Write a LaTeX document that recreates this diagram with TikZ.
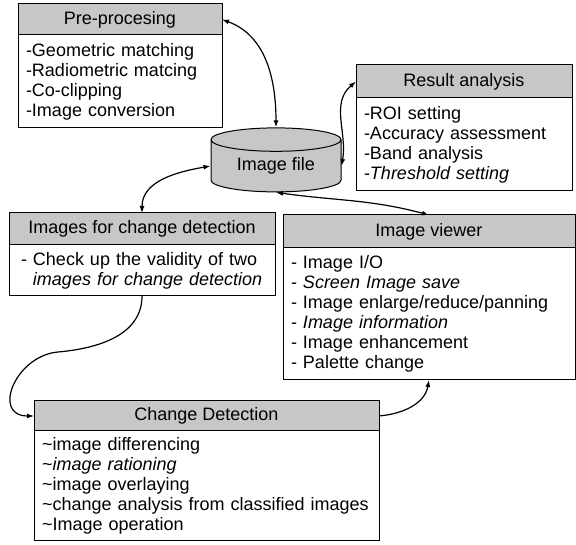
\documentclass[tikz,border=0pt]{standalone}
\usepackage{fontspec}
\setmainfont{Liberation Sans}
\usetikzlibrary{positioning, shapes.geometric, arrows.meta}
\tikzset{
	boxfont/.style={font=\fontsize{18}{20}\selectfont}, % text size used in every box
	head/.style={draw, line width=1pt, fill=black!22, boxfont, minimum height=32pt, inner sep=0pt, outer sep=0pt}, % grey title bar of a box
	body/.style={draw, line width=1pt, fill=white, boxfont, align=left, inner xsep=8pt, inner ysep=0pt, outer sep=0pt}, % list under a title bar
	store/.style={cylinder, shape border rotate=90, aspect=0.3, draw, line width=1pt, fill=black!22, boxfont, minimum width=130pt, minimum height=64pt, inner sep=0pt}, % the image file drum
	link/.style={line width=1.2pt, {Latex[length=7pt,width=5pt]}-{Latex[length=7pt,width=5pt]}}, % two way connector
	flow/.style={line width=1.2pt, -{Latex[length=7pt,width=5pt]}}, % one way connector
}
\begin{document}
\begin{tikzpicture}[x=1pt, y=1pt]
		\useasboundingbox (0,0) rectangle (576,545);

		\node[head, minimum width=204pt, minimum height=31pt, anchor=north west] (pre) at (18,541) {Pre-procesing};
		\node[body, text width=188pt, minimum height=93pt, below=0pt of pre] (prebody) {-Geometric matching\\-Radiometric matcing\\-Co-clipping\\-Image conversion};

		\node[head, minimum width=216pt, minimum height=33pt, anchor=north west] (res) at (356,480) {Result analysis};
		\node[body, text width=200pt, minimum height=93pt, below=0pt of res] (resbody) {-ROI setting\\-Accuracy assessment\\-Band analysis\\-\textit{Threshold setting}};

		\node[store] (file) at (276,379) {Image file};

		\node[head, minimum width=266pt, anchor=north west] (icd) at (9,332) {Images for change detection};
		\node[body, text width=250pt, minimum height=51pt, below=0pt of icd] (icdbody) {\hspace{4pt}- Check up the validity of two\\\hspace{4pt}\phantom{- }\textit{images for change detection}};

		\node[head, minimum width=292pt, minimum height=33pt, anchor=north west] (view) at (283,330) {Image viewer};
		\node[body, text width=276pt, minimum height=132pt, below=0pt of view] (viewbody) {- Image I/O\\- \textit{Screen Image save}\\- Image enlarge/reduce/panning\\- \textit{Image information}\\- Image enhancement\\- Palette change};

		\node[head, minimum width=345pt, minimum height=30pt, anchor=north west] (cd) at (34,144) {Change Detection};
		\node[body, text width=329pt, minimum height=110pt, below=0pt of cd] (cdbody) {\textasciitilde image differencing\\\textasciitilde\textit{image rationing}\\\textasciitilde image overlaying\\\textasciitilde change analysis from classified images\\\textasciitilde Image operation};

		\coordinate (turn) at (58,193);

		\draw[link] (pre.east) to[out=-20, in=90] (file.north);
		\draw[link] (res.west) to[out=220, in=80] (file.east);
		\draw[link] (file.west) to[out=190, in=90] (icd.north);
		\draw[link] (file.south) to[out=-8, in=165] (view.north);
		\draw[flow] (icdbody.south) to[out=-90, in=5] (turn) to[out=185, in=180, looseness=1.6] (cd.west);
		\draw[flow] (cd.east) to[out=5, in=-100] (viewbody.south);
	\end{tikzpicture}
\end{document}
